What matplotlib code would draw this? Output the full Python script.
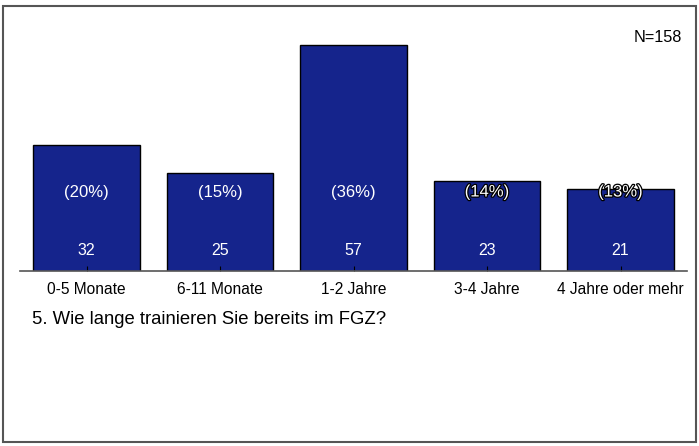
import matplotlib
matplotlib.use("Agg")
import matplotlib.pyplot as plt
import matplotlib.patheffects as pe
from matplotlib.patches import Rectangle

plt.rcParams['font.family'] = ['Liberation Sans', 'DejaVu Sans']

categories = ['0-5 Monate', '6-11 Monate', '1-2 Jahre', '3-4 Jahre', '4 Jahre oder mehr']
counts = [32, 25, 57, 23, 21]
percents = ['(20%)', '(15%)', '(36%)', '(14%)', '(13%)']
n_total = 158
question = '5. Wie lange trainieren Sie bereits im FGZ?'

bar_color = '#15248c'

fig = plt.figure(figsize=(6.99, 4.46), dpi=100)
fig.patches.append(Rectangle((3 / 699, 4 / 446), 693 / 699, 436 / 446,
                             transform=fig.transFigure, fill=False,
                             edgecolor='#555555', linewidth=1.5))

# axis line sits slightly above the bars' zero, bars get clipped there
ax = fig.add_axes([19.75 / 699, 1 - 270.5 / 446, 667.5 / 699, 250 / 446])
x = range(len(categories))
ax.bar(x, counts, width=0.8, color=bar_color, edgecolor='black', linewidth=1)
ax.set_xlim(-0.5, len(categories) - 0.5)
ax.set_ylim(0.625, 0.625 + 250 / 4.0)

pct_y = 20.25
for i, (c, p) in enumerate(zip(counts, percents)):
    ax.text(i, 5.6, str(c), ha='center', va='center', color='white', fontsize=11.5)
    txt = ax.text(i, pct_y, p, ha='center', va='center', color='white', fontsize=12)
    if c < pct_y + 3:
        txt.set_path_effects([pe.withStroke(linewidth=1.8, foreground='black')])

for side in ['top', 'right', 'left']:
    ax.spines[side].set_visible(False)
ax.spines['bottom'].set_color('#555555')
ax.spines['bottom'].set_linewidth(1.2)
ax.set_yticks([])
ax.set_xticks(list(x))
ax.set_xticklabels(categories, fontsize=11.2)
ax.tick_params(axis='x', direction='in', length=3.5, pad=8, color='black')

fig.text(658 / 699, 1 - 38 / 446, 'N=' + str(n_total), ha='center', va='center', fontsize=11.7)
fig.text(32 / 699, 1 - 324 / 446, question, ha='left', va='baseline', fontsize=13.3)

fig.savefig('out.png', dpi=100)
